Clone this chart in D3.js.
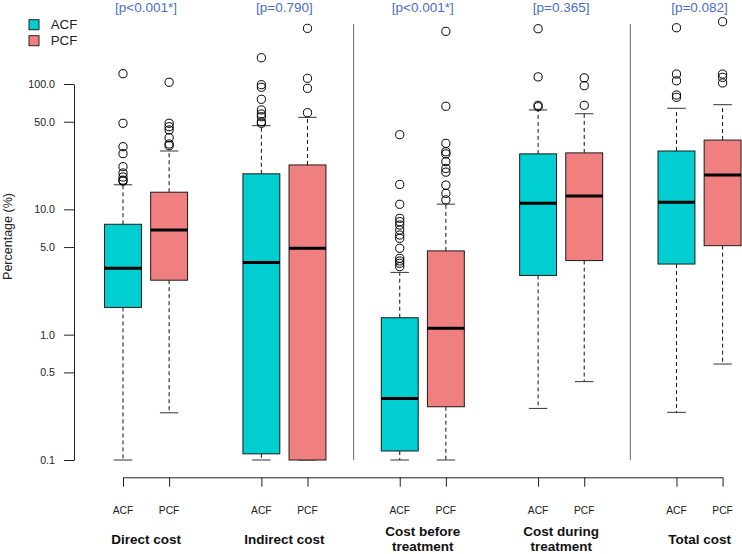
<!DOCTYPE html>
<html>
<head>
<meta charset="utf-8">
<script src="https://cdn.jsdelivr.net/npm/d3@7"></script>
<style>
  html, body { margin: 0; padding: 0; background: #fff; }
  svg { display: block; }
  text { font-family: "Liberation Sans", Arial, Helvetica, sans-serif; }
</style>
</head>
<body>
<svg id="chart" width="742" height="554"></svg>
<script>
// ---------------- data ----------------
const categories = [["Direct cost"], ["Indirect cost"], ["Cost before", "treatment"], ["Cost during", "treatment"], ["Total cost"]];
const groups = ["ACF", "PCF"];
const pValues = ["[p<0.001*]", "[p=0.790]", "[p<0.001*]", "[p=0.365]", "[p=0.082]"];
const yTicks = [0.1, 0.5, 1, 5, 10, 50, 100];

// box order: Direct ACF, Direct PCF, Indirect ACF, Indirect PCF, Before ACF, Before PCF, During ACF, During PCF, Total ACF, Total PCF
const whiskerLow  = [0.1, 0.238, 0.1, 0.1, 0.1, 0.1, 0.258, 0.422, 0.24, 0.583];
const q1          = [1.65, 2.72, 0.112, 0.1, 0.118, 0.266, 2.97, 3.9, 3.66, 5.13];
const median      = [3.39, 6.84, 3.76, 4.89, 0.31, 1.124, 11.2, 12.8, 11.4, 18.8];
const q3          = [7.6, 13.7, 19.2, 22.6, 1.365, 4.66, 27.7, 28.2, 29.2, 35.7];
const whiskerHigh = [15.7, 29.2, 46.5, 54.2, 3.14, 11.0, 62.1, 57.9, 64.0, 68.4];
const outliers = [
  [120.8, 48.6, 31.6, 27.8, 21.9, 19.5, 18.1, 17.1, 16.8],
  [103.2, 48.6, 45.6, 43.0, 37.3, 33.2, 32.2],
  [162, 98.7, 94.2, 75.5, 62.1, 57.6, 54.8, 50.0, 48.6],
  [278, 111, 92.4, 59.0],
  [39.4, 15.8, 10.97, 8.48, 7.97, 7.5, 6.84, 6.24, 5.87, 4.89, 4.07, 3.87, 3.71, 3.49],
  [263, 66.4, 33.6, 28.8, 27.7, 24.0, 21.2, 19.8, 15.6, 13.4, 11.9],
  [276, 114, 67.6, 65.9],
  [112, 97, 67.6],
  [281, 120, 106, 81.7, 78.3],
  [314, 120, 113, 102]
];
const colors = ["#00CED1", "#F08080"];
const pColor = "#4a6fc6";

// ---------------- layout ----------------
const svg = d3.select("#chart");
const x = d3.scaleLinear().domain([1, 14]).range([123, 722.6]);
const y = d3.scaleLog().domain([0.1, 100]).range([460, 84]);
const unit = x(2) - x(1);
const boxW = unit * 0.8;
const capW = boxW * 0.5;

const boxes = q1.map((d, i) => ({
  i,
  cat: Math.floor(i / 2),
  grp: i % 2,
  pos: Math.floor(i / 2) * 3 + (i % 2) + 1,
  lo: whiskerLow[i], q1: q1[i], med: median[i], q3: q3[i], hi: whiskerHigh[i],
  out: outliers[i]
}));

// separators
svg.append("g").selectAll("line").data([6, 12]).join("line")
  .attr("x1", d => x(d)).attr("x2", d => x(d))
  .attr("y1", 24).attr("y2", y(0.1))
  .attr("stroke", "#666").attr("stroke-width", 1);

// y axis
const yAxis = svg.append("g").attr("transform", "translate(74,0)")
  .call(d3.axisLeft(y).tickValues(yTicks).tickFormat(d3.format(".1f")).tickSize(10).tickSizeOuter(0).tickPadding(9));
yAxis.selectAll("path, line").attr("stroke", "#222");
yAxis.selectAll("text").attr("font-size", "10.7px").attr("fill", "#222")
  .attr("font-family", "'Liberation Sans', Arial, sans-serif");

// y label
svg.append("text")
  .attr("transform", "translate(12,236.5) rotate(-90)")
  .attr("text-anchor", "middle")
  .attr("font-size", "12.5px").attr("fill", "#222")
  .text("Percentage (%)");

// x axis
const xAxis = svg.append("g").attr("transform", "translate(0,477.3)")
  .call(d3.axisBottom(x).tickValues(boxes.map(b => b.pos)).tickFormat("").tickSize(9.4).tickSizeOuter(0));
xAxis.selectAll("path, line").attr("stroke", "#222");

svg.append("g").selectAll("text").data(boxes).join("text")
  .attr("x", d => x(d.pos)).attr("y", 513.7)
  .attr("text-anchor", "middle").attr("font-size", "10.3px").attr("fill", "#222")
  .text(d => groups[d.grp]);

// category labels
const catG = svg.append("g").selectAll("text").data(categories).join("text")
  .attr("text-anchor", "middle").attr("font-size", "13.5px").attr("font-weight", "bold").attr("fill", "#111")
  .attr("x", (d, i) => x(i * 3 + 1.5))
  .attr("y", d => d.length === 1 ? 543.5 : 535.5);
catG.selectAll("tspan").data(d => d).join("tspan")
  .attr("x", function () { return d3.select(this.parentNode).attr("x"); })
  .attr("dy", (d, j) => j === 0 ? 0 : 15.5)
  .text(d => d);

// p-values
svg.append("g").selectAll("text").data(pValues).join("text")
  .attr("x", (d, i) => x(i * 3 + 1.5)).attr("y", 12.4)
  .attr("text-anchor", "middle").attr("font-size", "13.5px").attr("fill", pColor)
  .text(d => d);

// boxes
const bg = svg.append("g").selectAll("g").data(boxes).join("g");
// whiskers (dashed)
bg.append("line")
  .attr("x1", d => x(d.pos)).attr("x2", d => x(d.pos))
  .attr("y1", d => y(d.q3)).attr("y2", d => y(d.hi))
  .attr("stroke", "#111").attr("stroke-dasharray", "4,3");
bg.append("line")
  .attr("x1", d => x(d.pos)).attr("x2", d => x(d.pos))
  .attr("y1", d => y(d.q1)).attr("y2", d => y(d.lo))
  .attr("stroke", "#111").attr("stroke-dasharray", "4,3");
// caps
bg.selectAll("line.cap").data(d => [d.lo, d.hi].map(v => ({ v, pos: d.pos }))).join("line")
  .attr("class", "cap")
  .attr("x1", d => x(d.pos) - capW / 2).attr("x2", d => x(d.pos) + capW / 2)
  .attr("y1", d => y(d.v)).attr("y2", d => y(d.v))
  .attr("stroke", "#333").attr("stroke-width", 1);
// box
bg.append("rect")
  .attr("x", d => x(d.pos) - boxW / 2).attr("width", boxW)
  .attr("y", d => y(d.q3)).attr("height", d => y(d.q1) - y(d.q3))
  .attr("fill", d => colors[d.grp]).attr("stroke", "#1a1a1a").attr("stroke-width", 1);
// median
bg.append("line")
  .attr("x1", d => x(d.pos) - boxW / 2).attr("x2", d => x(d.pos) + boxW / 2)
  .attr("y1", d => y(d.med)).attr("y2", d => y(d.med))
  .attr("stroke", "#000").attr("stroke-width", 3);
// outliers
bg.selectAll("circle").data(d => d.out.map(v => ({ v, pos: d.pos }))).join("circle")
  .attr("cx", d => x(d.pos)).attr("cy", d => y(d.v)).attr("r", 4.1)
  .attr("fill", "none").attr("stroke", "#000").attr("stroke-width", 1);

// legend
const leg = svg.append("g").selectAll("g").data(groups).join("g")
  .attr("transform", (d, i) => `translate(29,${19.7 + i * 16})`);
leg.append("rect").attr("width", 10).attr("height", 10)
  .attr("fill", (d, i) => colors[i]).attr("stroke", "#222").attr("stroke-width", 1);
leg.append("text").attr("x", 21.7).attr("y", 9.6)
  .attr("font-size", "13.3px").attr("fill", "#222").text(d => d);
</script>
</body>
</html>
